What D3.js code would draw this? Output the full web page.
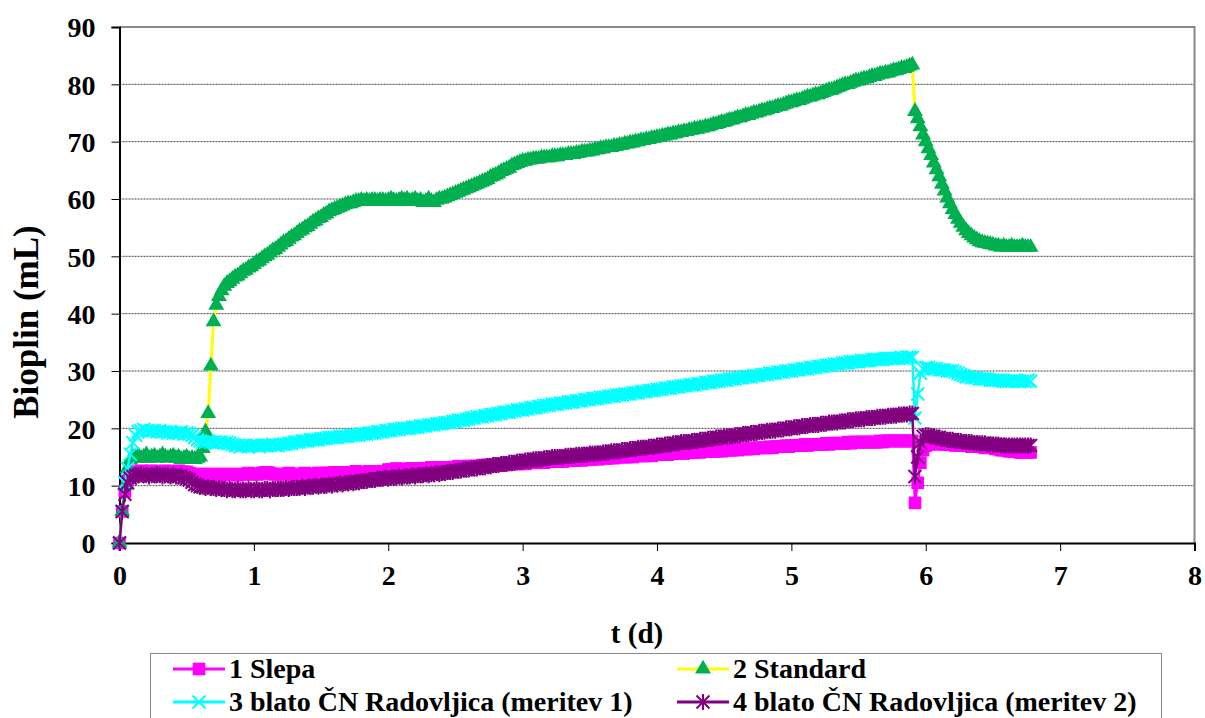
<!DOCTYPE html>
<html>
<head>
<meta charset="utf-8">
<script src="https://cdn.jsdelivr.net/npm/d3@7"></script>
<style>
  body { margin: 0; background: #fff; }
  svg { display: block; font-family: "Liberation Serif", "Times New Roman", serif; font-weight: bold; }
</style>
</head>
<body>
<div id="chart"></div>
<script>
// measurement interval (d) -- every series is sampled on the same clock
const STEP = 0.02;

const seriesNames = ["1 Slepa", "2 Standard", "3 blato ČN Radovljica (meritev 1)", "4 blato ČN Radovljica (meritev 2)"];
const xTicks = [0, 1, 2, 3, 4, 5, 6, 7, 8];
const yTicks = [0, 10, 20, 30, 40, 50, 60, 70, 80, 90];

const slepa = [
  0, 5.5, 9, 11, 12, 12.3, 12.4, 12.4, 12.6, 12.4, 12.4, 12.4, 12.6, 12.4, 12.4, 12.4, 12.4, 12.6, 12.4, 12.4,
  12.4, 12.4, 12.6, 12.4, 12.4, 12.4, 12.2, 12, 12, 12, 11.8, 12, 12, 12, 11.8, 12, 12, 12, 12, 11.8,
  12, 12, 12, 12, 11.8, 12, 12, 12, 12.2, 12, 12, 12, 12, 12.2, 12.3, 12.3, 12.2, 12, 12, 12,
  12, 12, 12, 12.2, 12, 12, 12, 12, 12, 12.2, 12, 12, 12, 12, 12.2, 12.2, 12, 12, 12.2, 12.2,
  12.3, 12.3, 12.3, 12.3, 12.2, 12.3, 12.3, 12.3, 12.5, 12.3, 12.3, 12.3, 12.3, 12.5, 12.3, 12.3, 12.5, 12.5, 12.5, 12.5,
  12.8, 12.8, 12.8, 13, 12.8, 12.8, 12.8, 12.8, 13, 13, 12.8, 13, 13, 13, 13, 13, 13.2, 13, 13, 13.2,
  13, 13.2, 13.2, 13.2, 13.2, 13.2, 13.4, 13.2, 13.2, 13.4, 13.4, 13.4, 13.4, 13.4, 13.4, 13.6, 13.4, 13.6, 13.6, 13.6,
  13.6, 13.6, 13.6, 13.8, 13.6, 13.8, 13.8, 13.8, 13.8, 13.8, 14, 13.8, 14, 14, 14, 14, 14, 14.2, 14, 14.2,
  14.2, 14.2, 14.2, 14.2, 14.4, 14.2, 14.4, 14.4, 14.4, 14.4, 14.4, 14.6, 14.4, 14.6, 14.6, 14.6, 14.6, 14.8, 14.6, 14.8,
  14.8, 14.8, 14.8, 15, 14.8, 15, 15, 15, 15, 15, 15.2, 15, 15.2, 15.2, 15.2, 15.2, 15.2, 15.4, 15.2, 15.4,
  15.4, 15.4, 15.4, 15.6, 15.4, 15.6, 15.6, 15.6, 15.6, 15.8, 15.6, 15.8, 15.8, 15.8, 15.8, 16, 15.8, 16, 16, 16,
  16, 16, 16, 16.2, 16, 16.2, 16.2, 16.2, 16.2, 16.4, 16.2, 16.4, 16.4, 16.4, 16.4, 16.6, 16.4, 16.6, 16.6, 16.6,
  16.6, 16.6, 16.8, 16.6, 16.8, 16.8, 16.8, 16.8, 17, 16.8, 17, 17, 17, 17, 17, 17.2, 17, 17.2, 17.2, 17.2,
  17.2, 17.2, 17.2, 17.4, 17.2, 17.4, 17.4, 17.4, 17.4, 17.4, 17.4, 17.6, 17.4, 17.6, 17.6, 17.6, 17.6, 17.6, 17.6, 17.6,
  17.6, 17.6, 17.6, 17.8, 17.6, 17.8, 17.8, 17.8, 17.8, 17.8, 17.8, 17.8, 17.8, 17.8, 17.8, 17.8, 7, 10.5, 14, 16.2,
  17, 17.2, 17.4, 17.4, 17.4, 17.2, 17.4, 17.2, 17.2, 17.2, 17.2, 17, 17.2, 17, 17, 17, 17, 16.8, 17, 16.8,
  16.8, 16.8, 16.6, 16.8, 16.6, 16.6, 16.4, 16.4, 16.2, 16.2, 16.2, 16, 16, 16, 16, 15.8, 15.8, 15.8, 15.8, 15.8
];

const standard = [
  0, 5.5, 10, 13, 14.5, 15, 14.8, 15.2, 14.8, 15, 15.4, 14.8, 15, 15.2, 14.8, 15, 15.4, 15, 14.8, 15,
  15.2, 14.8, 15, 14.6, 14.8, 15, 14.6, 14.8, 14.6, 14.8, 15, 16.5, 19.4, 22.6, 30.9, 38.6, 41.5, 43, 44, 44.8,
  45.3, 45.6, 46, 46.4, 46.6, 47, 47.4, 47.6, 48, 48.2, 48.6, 49, 49.2, 49.6, 50, 50.2, 50.6, 51, 51.2, 51.6,
  52, 52.4, 52.6, 53, 53.4, 53.6, 54, 54.4, 54.6, 55, 55.2, 55.6, 56, 56.2, 56.6, 56.8, 57.2, 57.4, 57.8, 58,
  58.2, 58.4, 58.6, 58.8, 59, 59.2, 59.2, 59.4, 59.6, 59.6, 59.8, 59.6, 59.8, 59.6, 59.8, 59.8, 59.6, 59.8, 59.8, 59.6,
  59.8, 60, 59.8, 59.6, 59.8, 60, 59.8, 60, 59.6, 59.8, 60, 59.6, 59.8, 59.4, 59.6, 60, 59.6, 59.4, 59.8, 60,
  60, 60.2, 60.4, 60.6, 60.8, 61, 61.2, 61.4, 61.6, 61.8, 62, 62.2, 62.4, 62.6, 62.8, 63, 63.2, 63.4, 63.8, 64,
  64.2, 64.4, 64.8, 65, 65.2, 65.4, 65.8, 66, 66.2, 66.4, 66.6, 66.6, 66.8, 66.8, 67, 67, 67, 67.2, 67.2, 67.2,
  67.2, 67.4, 67.4, 67.4, 67.6, 67.6, 67.6, 67.8, 67.8, 67.8, 68, 68, 68.2, 68.2, 68.2, 68.4, 68.4, 68.6, 68.6, 68.8,
  68.8, 69, 69, 69, 69.2, 69.2, 69.4, 69.4, 69.6, 69.6, 69.8, 69.8, 70, 70, 70.2, 70.2, 70.4, 70.4, 70.6, 70.6,
  70.8, 70.8, 71, 71, 71.2, 71.2, 71.4, 71.4, 71.6, 71.6, 71.8, 71.8, 72, 72, 72.2, 72.2, 72.4, 72.4, 72.6, 72.6,
  72.8, 73, 73, 73.2, 73.4, 73.4, 73.6, 73.8, 73.8, 74, 74.2, 74.2, 74.4, 74.6, 74.6, 74.8, 75, 75, 75.2, 75.4,
  75.4, 75.6, 75.8, 75.8, 76, 76.2, 76.2, 76.4, 76.6, 76.8, 76.8, 77, 77.2, 77.2, 77.4, 77.6, 77.8, 77.8, 78, 78.2,
  78.2, 78.4, 78.6, 78.8, 79, 79, 79.2, 79.4, 79.6, 79.8, 80, 80, 80.2, 80.4, 80.6, 80.6, 80.8, 81, 81, 81.2,
  81.4, 81.4, 81.6, 81.8, 81.8, 82, 82, 82.2, 82.4, 82.4, 82.6, 82.8, 82.8, 83, 83.2, 83.4, 75.3, 74, 72.6, 71.2,
  70, 68.8, 67.6, 66.3, 65.1, 63.9, 62.6, 61.4, 60.2, 59.2, 58.2, 57.3, 56.5, 55.8, 55.1, 54.5, 54, 53.6, 53.2, 52.9,
  52.6, 52.4, 52.3, 52.2, 52.1, 52, 51.8, 51.8, 51.6, 51.8, 51.6, 51.6, 51.8, 51.6, 51.6, 51.6, 51.8, 51.6, 51.6, 51.6
];

const meritev1 = [
  0, 5.5, 10.5, 13, 15.5, 17.5, 18.8, 19.5, 19.6, 19.8, 19.6, 19.4, 19.6, 19.6, 19.4, 19.6, 19.4, 19.4, 19.2, 19.4,
  19.2, 19.2, 19.2, 19.4, 19, 19.2, 19, 18.8, 18.4, 18, 17.8, 17.6, 17.6, 17.8, 17.6, 17.6, 17.4, 17.6, 17.6, 17.4,
  17.6, 17.4, 17.2, 17, 17, 16.8, 17, 17, 16.8, 17, 17, 17, 16.8, 17, 17, 17, 17, 17.2, 17, 17,
  17.2, 17.2, 17.2, 17.4, 17.4, 17.6, 17.6, 17.6, 17.8, 17.8, 17.8, 18, 18, 18, 18, 18.2, 18.2, 18.2, 18.4, 18.4,
  18.4, 18.4, 18.6, 18.6, 18.6, 18.6, 18.8, 18.8, 18.8, 18.8, 19, 19, 19, 19.2, 19.2, 19.2, 19.4, 19.4, 19.4, 19.6,
  19.6, 19.6, 19.8, 19.8, 19.8, 20, 20, 20, 20, 20.2, 20.2, 20.2, 20.4, 20.4, 20.4, 20.6, 20.6, 20.6, 20.8, 20.8,
  20.8, 21, 21, 21, 21.2, 21.2, 21.4, 21.4, 21.4, 21.6, 21.6, 21.8, 21.8, 22, 22, 22, 22.2, 22.2, 22.4, 22.4,
  22.4, 22.6, 22.6, 22.8, 22.8, 22.8, 23, 23, 23.2, 23.2, 23.2, 23.4, 23.4, 23.6, 23.6, 23.6, 23.8, 23.8, 24, 24,
  24, 24.2, 24.2, 24.2, 24.4, 24.4, 24.4, 24.6, 24.6, 24.6, 24.8, 24.8, 24.8, 25, 25, 25, 25.2, 25.2, 25.2, 25.4,
  25.4, 25.4, 25.6, 25.6, 25.6, 25.8, 25.8, 25.8, 26, 26, 26, 26.2, 26.2, 26.2, 26.4, 26.4, 26.4, 26.6, 26.6, 26.6,
  26.8, 26.8, 26.8, 27, 27, 27, 27.2, 27.2, 27.2, 27.4, 27.4, 27.4, 27.6, 27.6, 27.6, 27.8, 27.8, 27.8, 28, 28,
  28, 28.2, 28.2, 28.2, 28.4, 28.4, 28.4, 28.6, 28.6, 28.6, 28.8, 28.8, 28.8, 29, 29, 29, 29.2, 29.2, 29.2, 29.4,
  29.4, 29.4, 29.6, 29.6, 29.6, 29.8, 29.8, 29.8, 30, 30, 30, 30.2, 30.2, 30.2, 30.4, 30.4, 30.4, 30.6, 30.6, 30.6,
  30.8, 30.8, 30.8, 31, 31, 31, 31.2, 31.2, 31.2, 31.4, 31.4, 31.4, 31.6, 31.6, 31.6, 31.6, 31.8, 31.8, 31.8, 31.8,
  32, 32, 32, 32, 32, 32.2, 32.2, 32.2, 32.2, 32.2, 32.2, 32.4, 32.2, 32.4, 32.4, 32.4, 21.8, 26, 29.6, 30.4,
  30.6, 30.6, 30.4, 30.4, 30.4, 30.2, 30.2, 30.2, 30, 30, 30, 29.8, 29.6, 29.4, 29.2, 29, 29, 28.8, 28.8, 28.8,
  28.6, 28.6, 28.6, 28.6, 28.4, 28.4, 28.4, 28.4, 28.4, 28.2, 28.2, 28.2, 28.2, 28.4, 28.2, 28.2, 28.2, 28.2, 28.4, 28.2
];

const meritev2 = [
  0, 5.5, 8.5, 10.5, 11.3, 11.6, 11.8, 11.8, 12, 11.8, 11.8, 11.6, 11.8, 11.8, 12, 11.8, 11.6, 11.8, 11.8, 11.6,
  11.8, 11.6, 11.6, 11.8, 11.4, 11.2, 11, 10.6, 10.2, 10, 9.8, 9.8, 9.6, 9.8, 9.6, 9.6, 9.4, 9.6, 9.4, 9.4,
  9.2, 9.4, 9.2, 9.2, 9.4, 9.2, 9.2, 9.2, 9.4, 9.2, 9.2, 9.4, 9.2, 9.2, 9.4, 9.4, 9.2, 9.4, 9.4, 9.4,
  9.4, 9.4, 9.6, 9.4, 9.6, 9.6, 9.6, 9.6, 9.8, 9.6, 9.8, 9.8, 9.8, 10, 9.8, 10, 10, 10, 10.2, 10,
  10.2, 10.2, 10.4, 10.2, 10.4, 10.4, 10.6, 10.4, 10.6, 10.6, 10.8, 10.8, 10.8, 11, 11, 11, 11.2, 11.2, 11.2, 11.4,
  11.2, 11.4, 11.4, 11.4, 11.6, 11.4, 11.6, 11.6, 11.6, 11.8, 11.6, 11.8, 11.8, 11.8, 12, 11.8, 12, 12, 12.2, 12,
  12.2, 12.2, 12.4, 12.4, 12.4, 12.6, 12.6, 12.6, 12.8, 12.8, 12.8, 13, 13, 13, 13.2, 13.2, 13.2, 13.4, 13.4, 13.6,
  13.6, 13.6, 13.8, 13.8, 13.8, 14, 14, 14, 14.2, 14.2, 14.2, 14.4, 14.4, 14.4, 14.6, 14.6, 14.6, 14.6, 14.8, 14.8,
  14.8, 15, 15, 15, 15, 15, 15.2, 15.2, 15.2, 15.2, 15.4, 15.4, 15.4, 15.4, 15.4, 15.6, 15.6, 15.6, 15.6, 15.6,
  15.8, 15.8, 15.8, 16, 16, 16, 16, 16.2, 16.2, 16.2, 16.4, 16.4, 16.4, 16.6, 16.6, 16.6, 16.6, 16.8, 16.8, 16.8,
  17, 17, 17, 17.2, 17.2, 17.2, 17.4, 17.4, 17.4, 17.6, 17.6, 17.6, 17.6, 17.8, 17.8, 17.8, 18, 18, 18, 18.2,
  18.2, 18.2, 18.4, 18.4, 18.4, 18.6, 18.6, 18.6, 18.6, 18.8, 18.8, 18.8, 19, 19, 19, 19.2, 19.2, 19.2, 19.4, 19.4,
  19.4, 19.6, 19.6, 19.6, 19.6, 19.8, 19.8, 19.8, 20, 20, 20, 20.2, 20.2, 20.2, 20.4, 20.4, 20.4, 20.6, 20.6, 20.6,
  20.6, 20.8, 20.8, 20.8, 21, 21, 21, 21, 21.2, 21.2, 21.2, 21.4, 21.4, 21.4, 21.6, 21.6, 21.6, 21.6, 21.8, 21.8,
  21.8, 21.8, 22, 22, 22, 22, 22.2, 22.2, 22.2, 22.2, 22.4, 22.4, 22.4, 22.4, 22.6, 22.6, 11.6, 15, 17.5, 18.6,
  18.8, 18.8, 18.6, 18.6, 18.4, 18.4, 18.2, 18.2, 18, 18, 18, 17.8, 17.8, 17.8, 17.6, 17.6, 17.6, 17.6, 17.4, 17.4,
  17.4, 17.4, 17.4, 17.2, 17.2, 17.2, 17.2, 17.2, 17, 17, 17, 17, 17, 17, 17, 17, 17, 17, 17, 17
];

const times = d3.range(slepa.length).map(i => +(i * STEP).toFixed(2));

const W = 1205, H = 718;
const plot = { left: 119.5, right: 1194.5, top: 27, bottom: 543 };

const svg = d3.select("#chart").append("svg")
    .attr("width", W)
    .attr("height", H);

const x = d3.scaleLinear().domain([0, 8]).range([plot.left, plot.right]);
const y = d3.scaleLinear().domain([0, 90]).range([plot.bottom, plot.top]);

// gridlines
svg.append("g")
    .selectAll("line")
    .data(yTicks.filter(v => v > 0 && v < 90))
    .join("line")
    .attr("x1", plot.left).attr("x2", plot.right)
    .attr("y1", d => y(d)).attr("y2", d => y(d))
    .attr("stroke", "#444")
    .attr("stroke-width", 1)
    .attr("stroke-dasharray", "2,1");

// frame: top and right grey
svg.append("path")
    .attr("d", `M${plot.left},${plot.top}H${plot.right}V${plot.bottom}`)
    .attr("fill", "none")
    .attr("stroke", "#888")
    .attr("stroke-width", 2);

// axes
const xAxis = svg.append("g")
    .attr("transform", `translate(0,${plot.bottom})`)
    .call(d3.axisBottom(x).tickValues(xTicks).tickSize(8).tickPadding(14).tickFormat(d3.format("d")));
const yAxis = svg.append("g")
    .attr("transform", `translate(${plot.left},0)`)
    .call(d3.axisLeft(y).tickValues(yTicks).tickSize(8).tickPadding(16).tickFormat(d3.format("d")));

[xAxis, yAxis].forEach(a => {
    a.select(".domain").attr("stroke", "#000").attr("stroke-width", 2);
    a.selectAll(".tick line").attr("stroke", "#000");
    a.selectAll("text")
        .attr("fill", "#000")
        .style("font-family", "Liberation Serif, serif")
        .style("font-weight", "bold")
        .style("font-size", "28px");
});
yAxis.selectAll("text").attr("dy", "0.35em");

// axis titles
svg.append("text")
    .attr("x", 637).attr("y", 643)
    .attr("text-anchor", "middle")
    .style("font-size", "29px")
    .text("t (d)");
svg.append("text")
    .attr("transform", "translate(38,322) rotate(-90)")
    .attr("text-anchor", "middle")
    .style("font-size", "35px")
    .text("Bioplin (mL)");

// marker shapes
const square = d3.symbol().type(d3.symbolSquare).size(160)();
const triangle = d3.symbol().type(d3.symbolTriangle).size(110)();
const cross = "M-6.5,-6.5L6.5,6.5M-6.5,6.5L6.5,-6.5";
const star = "M-6.5,-6.5L6.5,6.5M-6.5,6.5L6.5,-6.5M0,-8L0,8";

const series = [
    { name: seriesNames[0], values: slepa, line: "#FF00FF", lw: 2.5, marker: square, fill: "#FF00FF", stroke: "none", sw: 0 },
    { name: seriesNames[1], values: standard, line: "#FFFF00", lw: 3, marker: triangle, fill: "#00B050", stroke: "none", sw: 0 },
    { name: seriesNames[2], values: meritev1, line: "#00FFFF", lw: 2.5, marker: cross, fill: "none", stroke: "#00FFFF", sw: 2 },
    { name: seriesNames[3], values: meritev2, line: "#800080", lw: 2.5, marker: star, fill: "none", stroke: "#800080", sw: 2 }
];

const line = d3.line()
    .x(d => x(d[0]))
    .y(d => y(d[1]));

series.forEach(s => {
    const pts = s.values.map((v, i) => [times[i], v]);
    const g = svg.append("g");
    g.append("path")
        .datum(pts)
        .attr("d", line)
        .attr("fill", "none")
        .attr("stroke", s.line)
        .attr("stroke-width", s.lw);
    g.selectAll("path.m")
        .data(pts)
        .join("path")
        .attr("class", "m")
        .attr("transform", d => `translate(${x(d[0])},${y(d[1])})`)
        .attr("d", s.marker)
        .attr("fill", s.fill)
        .attr("stroke", s.stroke)
        .attr("stroke-width", s.sw);
});

// legend
const legend = svg.append("g");
legend.append("rect")
    .attr("x", 150.5).attr("y", 653.5)
    .attr("width", 1011).attr("height", 80)
    .attr("fill", "#fff")
    .attr("stroke", "#888")
    .attr("stroke-width", 1);

const legendPos = [
    { x: 173, y: 669 },
    { x: 677, y: 669 },
    { x: 173, y: 702 },
    { x: 677, y: 702 }
];

series.forEach((s, i) => {
    const p = legendPos[i];
    const item = legend.append("g").attr("transform", `translate(${p.x},${p.y})`);
    item.append("line")
        .attr("x1", 0).attr("x2", 52)
        .attr("stroke", s.line)
        .attr("stroke-width", 3);
    item.append("path")
        .attr("transform", "translate(26,0)")
        .attr("d", s.marker)
        .attr("fill", s.fill)
        .attr("stroke", s.stroke)
        .attr("stroke-width", s.sw);
    item.append("text")
        .attr("x", 56).attr("y", 9)
        .style("font-size", "28px")
        .text(s.name);
});
</script>
</body>
</html>
